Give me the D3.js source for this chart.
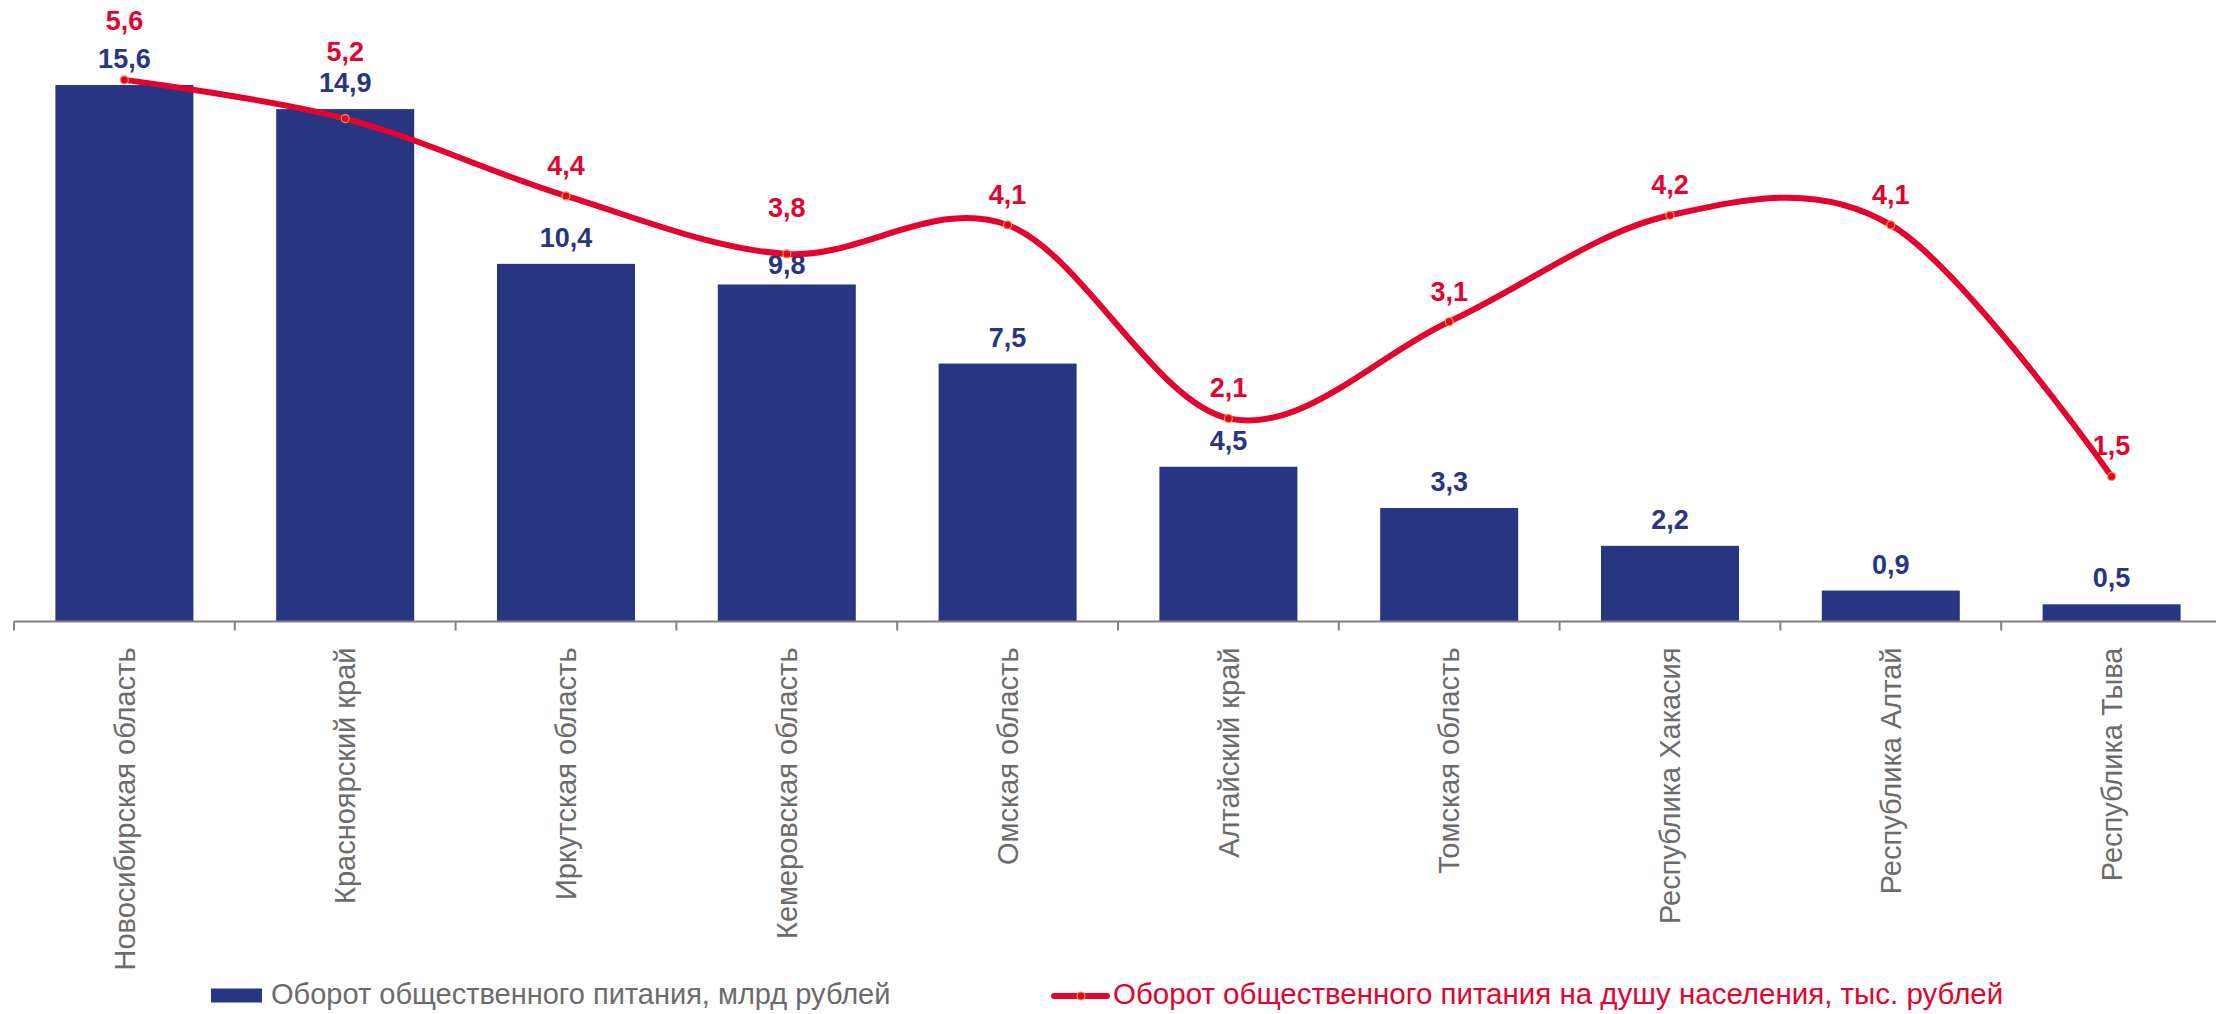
<!DOCTYPE html>
<html>
<head>
<meta charset="utf-8">
<script src="https://cdn.jsdelivr.net/npm/d3@7"></script>
<style>
  body { margin: 0; background: #fff; }
  text { font-family: Arial, "Liberation Sans", sans-serif; }
</style>
</head>
<body>
<div id="chart"></div>
<script>
const categories = ["Новосибирская область", "Красноярский край", "Иркутская область", "Кемеровская область",
  "Омская область", "Алтайский край", "Томская область", "Республика Хакасия", "Республика Алтай", "Республика Тыва"];
const turnover = [15.6, 14.9, 10.4, 9.8, 7.5, 4.5, 3.3, 2.2, 0.9, 0.5];
const perCapita = [5.6, 5.2, 4.4, 3.8, 4.1, 2.1, 3.1, 4.2, 4.1, 1.5];
const legendNames = ["Оборот общественного питания, млрд рублей",
  "Оборот общественного питания на душу населения, тыс. рублей"];

// label nudges (px) where labels would collide
const barLabelShift = {3: 7};
const lineLabelShift = {0: -29, 1: -37, 3: -16};

const W = 2216, H = 1014;
const blue = "#283583", red = "#e4032e", grey = "#6b6b6b", orange = "#f39a2c";
const fmt = v => d3.format(".1f")(v).replace(".", ",");

const svg = d3.select("#chart").append("svg")
  .attr("width", W).attr("height", H);

const baseY = 621.5;

const x = d3.scaleBand()
  .domain(categories)
  .range([14, 2222])
  .padding(0);

const y = d3.scaleLinear().domain([0, 18]).range([baseY, 2.5]);
const y2 = d3.scaleLinear().domain([0, 6.4]).range([baseY, 2.5]);

const barW = x.bandwidth() * 0.625;

// bars
svg.selectAll(".bar")
  .data(turnover)
  .enter()
  .append("rect")
  .attr("class", "bar")
  .attr("x", (d, i) => x(categories[i]) + (x.bandwidth() - barW) / 2)
  .attr("y", d => y(d))
  .attr("width", barW)
  .attr("height", d => baseY - y(d))
  .attr("fill", blue);

// x axis
const axis = svg.append("g")
  .attr("transform", "translate(0," + baseY + ")")
  .call(d3.axisBottom(x).tickSize(0));
axis.select(".domain").remove();
axis.selectAll("text")
  .attr("transform", "rotate(-90)")
  .attr("x", -26)
  .attr("y", 0)
  .attr("dy", "0.35em")
  .style("text-anchor", "end")
  .style("font-size", "29px")
  .style("font-family", "Arial, 'Liberation Sans', sans-serif")
  .attr("fill", grey);

axis.append("line")
  .attr("x1", 14).attr("x2", W)
  .attr("y1", 0).attr("y2", 0)
  .attr("stroke", "#808080").attr("stroke-width", 2);

axis.selectAll(".bound")
  .data(categories)
  .enter()
  .append("line")
  .attr("class", "bound")
  .attr("x1", d => x(d)).attr("x2", d => x(d))
  .attr("y1", 0).attr("y2", 9)
  .attr("stroke", "#808080").attr("stroke-width", 2);

// bar labels
svg.selectAll(".barLabel")
  .data(turnover)
  .enter()
  .append("text")
  .attr("class", "barLabel")
  .attr("x", (d, i) => x(categories[i]) + x.bandwidth() / 2)
  .attr("y", (d, i) => y(d) - 17 + (barLabelShift[i] || 0))
  .attr("text-anchor", "middle")
  .style("font-size", "27px")
  .style("font-weight", "bold")
  .attr("fill", blue)
  .text(d => fmt(d));

// line
const line = d3.line()
  .x((d, i) => x(categories[i]) + x.bandwidth() / 2)
  .y(d => y2(d))
  .curve(d3.curveCardinal.tension(0));

svg.append("path")
  .datum(perCapita)
  .attr("d", line)
  .attr("fill", "none")
  .attr("stroke", red)
  .attr("stroke-width", 6);

svg.selectAll(".dot")
  .data(perCapita)
  .enter()
  .append("circle")
  .attr("class", "dot")
  .attr("cx", (d, i) => x(categories[i]) + x.bandwidth() / 2)
  .attr("cy", d => y2(d))
  .attr("r", 4)
  .attr("fill", red)
  .attr("stroke", orange)
  .attr("stroke-width", 1.2);

svg.selectAll(".lineLabel")
  .data(perCapita)
  .enter()
  .append("text")
  .attr("class", "lineLabel")
  .attr("x", (d, i) => x(categories[i]) + x.bandwidth() / 2)
  .attr("y", (d, i) => y2(d) - 21 + (lineLabelShift[i] || 0))
  .attr("text-anchor", "middle")
  .style("font-size", "27px")
  .style("font-weight", "bold")
  .attr("fill", red)
  .text(d => fmt(d));

// legend
const lg = svg.append("g");
lg.append("rect")
  .attr("x", 211).attr("y", 988.5)
  .attr("width", 51).attr("height", 14)
  .attr("fill", blue);
lg.append("text")
  .attr("x", 271).attr("y", 1004)
  .style("font-size", "29px")
  .attr("fill", grey)
  .text(legendNames[0]);

lg.append("line")
  .attr("x1", 1054).attr("x2", 1107)
  .attr("y1", 996).attr("y2", 996)
  .attr("stroke", red).attr("stroke-width", 6)
  .attr("stroke-linecap", "round");
lg.append("circle")
  .attr("cx", 1081).attr("cy", 996).attr("r", 4)
  .attr("fill", red).attr("stroke", orange).attr("stroke-width", 1.2);
lg.append("text")
  .attr("x", 1113).attr("y", 1004)
  .style("font-size", "29.5px")
  .attr("fill", red)
  .text(legendNames[1]);
</script>
</body>
</html>
